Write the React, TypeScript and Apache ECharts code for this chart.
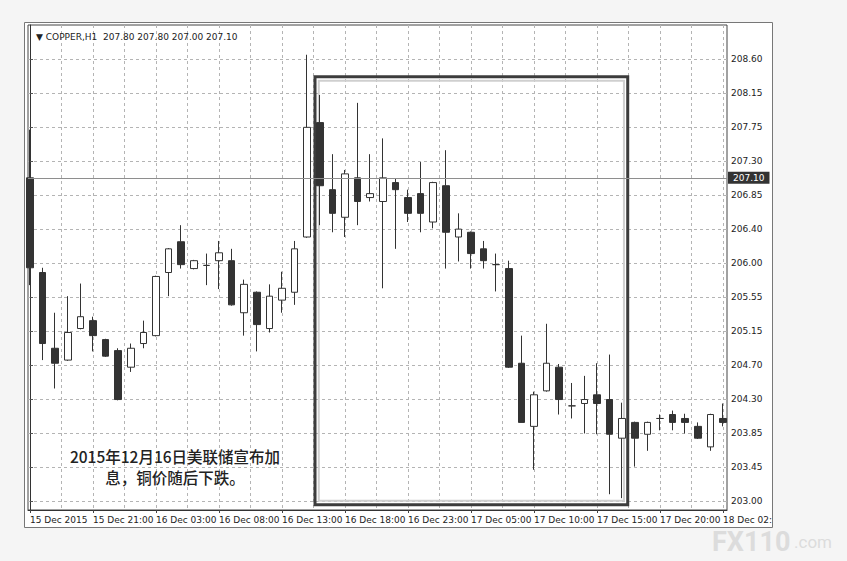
import React, { useEffect, useRef } from 'react'
import * as echarts from 'echarts'

// COPPER H1 candles (bar index = position on the time axis)
const opens = [
  207.10, 205.90, 204.94, 204.79, 205.19, 205.29, 205.05, 204.91, 204.70, 205.00,
  205.10, 205.90, 206.29, 205.95, 205.99, 206.05, 206.05, 205.39, 205.65, 205.19,
  205.55, 205.65, 206.35, 207.80, 206.95, 206.60, 207.10, 206.85, 206.80, 207.04,
  206.85, 206.90, 206.54, 207.00, 206.35, 206.41, 206.20, 206.00, 205.95, 204.75,
  203.95, 204.40, 204.70, 204.21, 204.24, 204.35, 204.29, 203.80, 204.00, 203.85,
  204.05, 204.10, 204.05, 203.95, 203.69, 204.05
]
const highs = [
  207.71, 205.96, 205.39, 205.60, 205.76, 205.34, 205.06, 204.94, 205.00, 205.29,
  205.86, 206.21, 206.50, 206.06, 206.14, 206.30, 206.20, 205.81, 205.66, 205.75,
  205.91, 206.30, 208.66, 208.15, 207.40, 207.20, 208.05, 207.40, 207.60, 207.09,
  206.95, 207.30, 207.05, 207.45, 206.65, 206.42, 206.30, 206.14, 206.05, 205.10,
  204.39, 205.25, 204.74, 204.50, 204.59, 204.75, 204.86, 204.25, 204.01, 204.01,
  204.10, 204.15, 204.11, 204.00, 204.11, 204.24
]
const lows = [
  205.74, 204.79, 204.43, 204.78, 205.18, 204.90, 204.83, 204.28, 204.64, 204.94,
  205.09, 205.60, 205.95, 205.94, 205.74, 205.69, 205.48, 205.10, 204.90, 205.14,
  205.39, 205.49, 206.34, 206.50, 206.41, 206.35, 206.50, 206.80, 205.70, 206.20,
  206.54, 206.41, 206.46, 205.95, 206.04, 205.95, 205.95, 205.66, 204.69, 204.00,
  203.40, 204.39, 204.10, 204.05, 203.86, 203.85, 203.09, 203.04, 203.44, 203.64,
  203.90, 203.90, 203.86, 203.79, 203.64, 203.95
]
const closes = [
  205.96, 205.00, 204.75, 205.14, 205.34, 205.10, 204.84, 204.29, 204.94, 205.14,
  205.85, 206.20, 206.00, 206.05, 205.99, 206.15, 205.49, 205.75, 205.24, 205.60,
  205.70, 206.20, 207.74, 207.00, 206.65, 207.15, 206.80, 206.90, 207.10, 206.95,
  206.65, 206.65, 207.04, 206.41, 206.45, 206.14, 206.05, 206.00, 204.70, 204.00,
  204.35, 204.75, 204.29, 204.21, 204.29, 204.24, 203.85, 204.05, 203.80, 204.00,
  204.05, 204.00, 204.00, 203.80, 204.10, 204.00
]

// time labels, one every 5 bars
const timeLabels = [
  '15 Dec 2015', '15 Dec 21:00', '16 Dec 03:00', '16 Dec 08:00', '16 Dec 13:00', '16 Dec 18:00',
  '16 Dec 23:00', '17 Dec 05:00', '17 Dec 10:00', '17 Dec 15:00', '17 Dec 20:00', '18 Dec 02:'
]
// price scale labels (MT4 spaces them evenly on screen)
const priceLabels = [
  '203.00', '203.45', '203.85', '204.30', '204.70', '205.15', '205.55',
  '206.00', '206.40', '206.85', '207.30', '207.75', '208.15', '208.60'
]
const lastPrice = 207.10
const header = '▼ COPPER,H1  207.80 207.80 207.00 207.10'
const note = '2015年12月16日美联储宣布加\n息，铜价随后下跌。'
// highlighted window (bar index / price)
const boxFrom = [22.62, 208.38]
const boxTo = [47.44, 202.956]

const priceMin = 203.0
const priceStep = 5.6 / 13
const priceTicks = priceLabels.map((_, i) => priceMin + i * priceStep)
const labelBars = timeLabels.map((_, i) => i * 5)
const gridBars: number[] = []
for (let b = 0; b <= 55; b += 2.5) gridBars.push(b)

const font = 'DejaVu Sans'
const xMin = -0.16
const xMax = 55.32

const App = () => {
  const chartRef: any = useRef()

  useEffect(() => {
    document.body.style.margin = '0'
    const chart = echarts.init(chartRef.current, null, { renderer: 'svg' })

    const data = opens.map((o, i) => [i, o, closes[i], lows[i], highs[i]])

    chart.setOption({
      animation: false,
      backgroundColor: '#f5f5f5',
      title: {
        text: header,
        left: 31,
        top: 27,
        textStyle: { fontSize: 9, fontWeight: 'normal', color: '#222', fontFamily: font }
      },
      grid: {
        left: 28,
        top: 25,
        right: 120,
        bottom: 51,
        show: true,
        borderColor: '#444',
        borderWidth: 1,
        backgroundColor: 'transparent',
        containLabel: false,
        outerBoundsMode: 'none'
      },
      xAxis: [
        {
          type: 'value',
          min: xMin,
          max: xMax,
          axisLine: { show: true, lineStyle: { color: '#333' } },
          axisTick: { show: false, customValues: gridBars },
          axisLabel: {
            customValues: labelBars,
            formatter: (v: number) => timeLabels[Math.round(v / 5)],
            align: 'left',
            margin: 5,
            fontSize: 9,
            color: '#222',
            fontFamily: font
          },
          splitLine: { show: true, lineStyle: { color: '#b4b4b4', type: [3, 3], width: 1 } }
        },
        {
          // tick marks under the time labels only
          type: 'value',
          position: 'bottom',
          min: xMin,
          max: xMax,
          axisLine: { show: false },
          axisTick: { show: true, length: 3, customValues: labelBars, lineStyle: { color: '#444' } },
          axisLabel: { show: false },
          splitLine: { show: false }
        }
      ],
      yAxis: {
        type: 'value',
        position: 'right',
        min: 202.89,
        max: 209.037,
        axisLine: { show: true, lineStyle: { color: '#333' } },
        axisTick: { show: true, length: 3, customValues: priceTicks, lineStyle: { color: '#555' } },
        axisLabel: {
          customValues: priceTicks,
          formatter: (v: number) => priceLabels[Math.round((v - priceMin) / priceStep)],
          margin: 4,
          fontSize: 9,
          color: '#222',
          fontFamily: font
        },
        splitLine: { show: true, lineStyle: { color: '#b4b4b4', type: [3, 3], width: 1 } }
      },
      graphic: [
        {
          type: 'rect',
          z: -10,
          shape: { x: 24.5, y: 22.5, width: 748, height: 505 },
          style: { fill: '#fff', stroke: '#777', lineWidth: 1 }
        },
        {
          type: 'text',
          z: 100,
          x: 175,
          y: 445,
          style: {
            text: note,
            textAlign: 'center',
            fontSize: 15.5,
            lineHeight: 21,
            fontWeight: 500,
            fontFamily: 'Noto Sans CJK SC',
            fill: '#222'
          }
        },
        {
          type: 'text',
          x: 712,
          y: 528,
          style: { text: 'FX110', fontSize: 27, fontWeight: 'bold', fontFamily: 'Roboto', fill: '#dcdcdc' }
        },
        {
          type: 'text',
          x: 794,
          y: 533,
          style: { text: '.com', fontSize: 17, fontFamily: 'Roboto', fill: '#dcdcdc' }
        }
      ],
      series: [
        {
          type: 'candlestick',
          data: data,
          barWidth: 7,
          itemStyle: {
            color: '#ffffff',
            color0: '#333333',
            borderColor: '#333333',
            borderColor0: '#333333',
            borderColorDoji: '#333333',
            borderWidth: 1
          },
          markLine: {
            silent: true,
            symbol: ['none', 'none'],
            lineStyle: { color: '#8e8e8e', type: 'solid', width: 1 },
            label: {
              position: 'end',
              distance: 1,
              formatter: lastPrice.toFixed(2),
              backgroundColor: '#333',
              color: '#fff',
              padding: [2, 5, 1, 5],
              fontSize: 9,
              fontFamily: font
            },
            data: [{ yAxis: lastPrice }]
          },
          markArea: {
            silent: true,
            data: [
              [
                { coord: boxFrom, itemStyle: { color: 'rgba(0,0,0,0)', borderColor: '#3c3c3c', borderWidth: 3 } },
                { coord: boxTo }
              ],
              [
                {
                  coord: [boxFrom[0] + 0.3, boxFrom[1] - 0.05],
                  itemStyle: { color: 'rgba(0,0,0,0)', borderColor: '#cfcfcf', borderWidth: 2 }
                },
                { coord: [boxTo[0] - 0.3, boxTo[1] + 0.05] }
              ]
            ]
          }
        }
      ]
    })

    return () => {
      chart.dispose()
    }
  }, [])

  return <div style={{ width: 847, height: 561 }} ref={chartRef}></div>
}
export default App
